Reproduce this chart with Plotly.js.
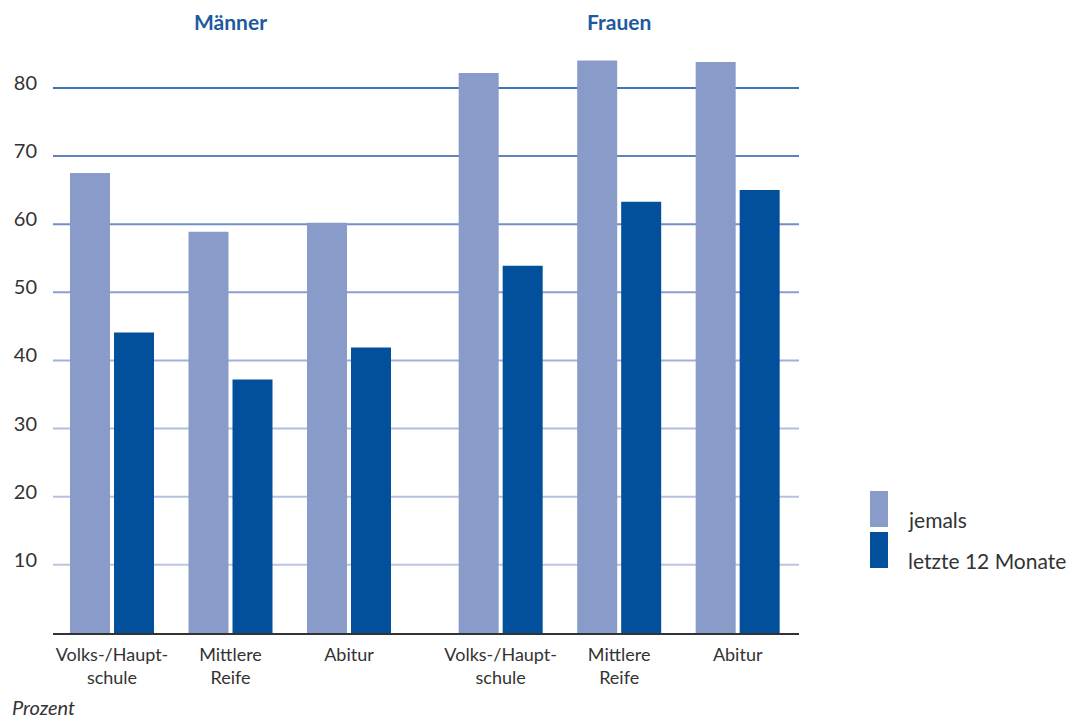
<!DOCTYPE html>
<html>
<head>
<meta charset="utf-8">
<script src="https://cdn.plot.ly/plotly-3.0.1.min.js"></script>
<style>html,body{margin:0;padding:0;background:#fff;}#chart{width:1071px;height:722px;}</style>
</head>
<body>
<div id="chart"></div>
<script>
// ---- data ----
const categories = ["Volks-/Haupt-<br>schule", "Mittlere<br>Reife", "Abitur"];
const groups = ["Männer", "Frauen"];
const seriesNames = ["jemals", "letzte 12 Monate"];
const jemalsMaenner = [67.5, 58.9, 60.2];
const jemalsFrauen = [82.2, 84.0, 83.8];
const letzteMaenner = [44.1, 37.2, 41.9];
const letzteFrauen = [53.9, 63.3, 65.0];
const yTickValues = [10, 20, 30, 40, 50, 60, 70, 80];
const yTickLabels = ["10", "20", "30", "40", "50", "60", "70", "80"];

// ---- styling ----
const colJemals = "#899bc8";
const colLetzte = "#02509b";
const gridColors = ["#bcc4e3", "#b8c0e2", "#b2bcdf", "#a3afda", "#8d9dd2", "#7290c8", "#5f82bf", "#3a77b4"];
const textColor = "#333333";
const titleColor = "#1c5aa0";
const font = "Lato, 'Open Sans', sans-serif";

// layout geometry (pixels)
const W = 1071, H = 722;
const mL = 53, mR = 272, mT = 47, mB = 89;
const pw = W - mL - mR, ph = H - mT - mB;
const px2x = p => (p - mL) / pw;
const py2y = p => (H - mB - p) / ph;

const groupGap = 0.28;
const xs = [];
const labels = [];
groups.forEach((g, gi) => categories.forEach((c, ci) => {
  xs.push(ci + gi * (categories.length + groupGap));
  labels.push(c);
}));
const jemals = jemalsMaenner.concat(jemalsFrauen);
const letzte = letzteMaenner.concat(letzteFrauen);

const traces = [
  {type: "bar", name: seriesNames[0], x: xs, y: jemals, marker: {color: colJemals}, hoverinfo: "y"},
  {type: "bar", name: seriesNames[1], x: xs, y: letzte, marker: {color: colLetzte}, hoverinfo: "y"}
];

const shapes = yTickValues.map((v, i) => ({
  type: "line", xref: "paper", yref: "y", x0: 0, x1: 1, y0: v, y1: v,
  line: {color: gridColors[i], width: 2}, layer: "below"
}));
// legend swatches
[colJemals, colLetzte].forEach((c, i) => {
  const top = 491 + i * 41;
  shapes.push({type: "rect", xref: "paper", yref: "paper",
    x0: px2x(870), x1: px2x(888), y0: py2y(top + 36), y1: py2y(top),
    fillcolor: c, line: {width: 0}});
});

const annotations = [];
groups.forEach((g, gi) => {
  annotations.push({text: "<b>" + g + "</b>", xref: "x", yref: "paper",
    x: xs[gi * categories.length + 1], y: py2y(22), xanchor: "center", yanchor: "middle",
    showarrow: false, font: {family: font, size: 21, color: titleColor}});
});
seriesNames.forEach((s, i) => {
  annotations.push({text: s, xref: "paper", yref: "paper",
    x: px2x(906), y: py2y(519 + i * 41), xanchor: "left", yanchor: "middle",
    showarrow: false, font: {family: font, size: 21, color: textColor}});
});
annotations.push({text: "<i>Prozent</i>", xref: "paper", yref: "paper",
  x: px2x(10), y: py2y(721), xanchor: "left", yanchor: "bottom",
  showarrow: false, font: {family: font, size: 20, color: textColor}});

const xMin = -(112 - mL) / 118.5;
const xMax = xMin + pw / 118.5;

const layout = {
  width: W, height: H,
  margin: {l: mL, r: mR, t: mT, b: mB, pad: 0},
  paper_bgcolor: "#fff", plot_bgcolor: "#fff",
  showlegend: false,
  barmode: "group", bargap: 0.2574, bargroupgap: 0.0909,
  font: {family: font, color: textColor},
  xaxis: {
    type: "linear", range: [xMin, xMax], tickmode: "array", tickvals: xs, ticktext: labels,
    showgrid: false, zeroline: false, showline: true, linecolor: "#333", linewidth: 2,
    ticks: "", tickfont: {family: font, size: 18, color: textColor}, ticklabelstandoff: 4
  },
  yaxis: {
    range: [0, ph / 6.814], tickmode: "array", tickvals: yTickValues, ticktext: yTickLabels,
    showgrid: false, zeroline: false, showline: false, ticks: "",
    tickfont: {family: font, size: 20, color: textColor}, ticklabelstandoff: 15, ticklabelshift: -5
  },
  shapes: shapes,
  annotations: annotations
};

Plotly.newPlot("chart", traces, layout, {displayModeBar: false, staticPlot: true});
</script>
</body>
</html>
